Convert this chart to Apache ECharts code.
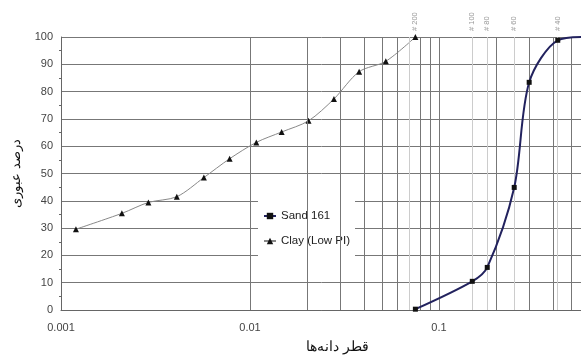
<!DOCTYPE html>
<html>
<head>
<meta charset="utf-8">
<script src="https://cdn.jsdelivr.net/npm/echarts@6/dist/echarts.min.js"></script>
<style>html,body{margin:0;padding:0;background:#fff;}#c{width:581px;height:358px;}</style>
</head>
<body>
<div id="c"></div>
<script>
const sandSizes = [0.075, 0.15, 0.18, 0.25, 0.3, 0.425, 0.6, 0.85];
const sandPassing = [0.3, 10.5, 15.6, 44.9, 83.4, 98.8, 100, 100];
const claySizes = [0.0012, 0.0021, 0.0029, 0.0041, 0.0057, 0.0078, 0.0108, 0.0147, 0.0204, 0.0278, 0.0378, 0.0523, 0.075];
const clayPassing = [29.6, 35.4, 39.4, 41.5, 48.5, 55.4, 61.4, 65.2, 69.3, 77.3, 87.3, 91.1, 100];
const sieveSizes = [0.075, 0.15, 0.18, 0.25, 0.425];
const sieveLabels = ['# 200', '# 100', '# 80', '# 60', '# 40'];
const xTickLabels = ['0.001', '0.01', '0.1', '1'];

const minorGrid = [];
[0.001, 0.01, 0.1].forEach(function (d) {
  for (let k = 2; k <= 9; k++) minorGrid.push(+(d * k).toPrecision(3));
});

const chart = echarts.init(document.getElementById('c'));
const option = {
  animation: false,
  backgroundColor: '#fff',
  textStyle: { fontFamily: 'Liberation Sans, Arial, sans-serif' },
  grid: { left: 61, top: 37, width: 567, height: 273, outerBoundsMode: 'none', containLabel: false },
  legend: {
    orient: 'vertical',
    left: 258, top: 198,
    backgroundColor: '#fff',
    padding: [12, 5, 10, 5],
    itemGap: 13,
    itemWidth: 12, itemHeight: 8,
    textStyle: { fontSize: 11.5, color: '#222', fontFamily: 'Liberation Sans, Arial, sans-serif' },
    data: ['Sand 161', 'Clay (Low PI)']
  },
  xAxis: {
    type: 'log', logBase: 10, min: 0.001, max: 1,
    name: 'قطر دانه‌ها', nameLocation: 'middle', nameGap: 30,
    nameTextStyle: { fontSize: 14, color: '#111', fontFamily: 'DejaVu Serif, serif', padding: [0, 14, 0, 0] },
    axisLine: { lineStyle: { color: '#666' } },
    axisTick: { show: false },
    axisLabel: {
      color: '#444', fontSize: 11, margin: 12,
      formatter: function (v) {
        const i = Math.round(Math.log10(v)) + 3;
        return xTickLabels[i] !== undefined ? xTickLabels[i] : '';
      }
    },
    splitLine: { show: true, lineStyle: { color: '#777', width: 1 } }
  },
  yAxis: {
    type: 'value', min: 0, max: 100, interval: 10,
    name: 'درصد عبوری', nameLocation: 'middle', nameGap: 38, nameRotate: 90,
    nameTextStyle: { fontSize: 13, color: '#111', fontFamily: 'DejaVu Serif, serif' },
    axisLine: { show: true, lineStyle: { color: '#666' } },
    axisTick: { show: false },
    minorTick: { show: true, splitNumber: 2, length: 2, lineStyle: { color: '#666' } },
    axisLabel: { color: '#444', fontSize: 11, margin: 8 },
    splitLine: { show: true, lineStyle: { color: '#777', width: 1 } }
  },
  series: [
    {
      name: 'grid', type: 'line', data: [], silent: true,
      markLine: {
        silent: true, symbol: 'none', animation: false,
        label: { show: false },
        lineStyle: { color: '#777', width: 1, type: 'solid' },
        data: minorGrid.map(function (v) { return { xAxis: v }; })
      }
    },
    {
      name: 'sieves', type: 'line', data: [], silent: true,
      markLine: {
        silent: true, symbol: 'none', animation: false,
        label: { show: false },
        lineStyle: { color: '#ccc', width: 1, type: 'solid' },
        data: sieveSizes.map(function (v) { return { xAxis: v }; })
      }
    },
    {
      name: 'Sand 161', type: 'line', smooth: 0.3,
      data: sandSizes.map(function (x, i) { return [x, sandPassing[i]]; }),
      symbol: 'rect', symbolSize: 5, showAllSymbol: true,
      itemStyle: { color: '#111' },
      lineStyle: { color: '#22225e', width: 2 },
      z: 5
    },
    {
      name: 'Clay (Low PI)', type: 'line', smooth: 0.3,
      data: claySizes.map(function (x, i) { return [x, clayPassing[i]]; }),
      symbol: 'triangle', symbolSize: 6,
      itemStyle: { color: '#111' },
      lineStyle: { color: '#888', width: 1 },
      z: 4
    }
  ]
};
chart.setOption(option);

const graphics = sieveSizes.map(function (v, i) {
  const px = chart.convertToPixel({ xAxisIndex: 0 }, v);
  return {
    type: 'text', x: px, y: 31, rotation: Math.PI / 2,
    style: { text: sieveLabels[i], fill: '#999', fontSize: 7.5, fontFamily: 'Liberation Sans, Arial, sans-serif', textVerticalAlign: 'middle' },
    silent: true
  };
});
chart.setOption({ graphic: graphics });
</script>
</body>
</html>
